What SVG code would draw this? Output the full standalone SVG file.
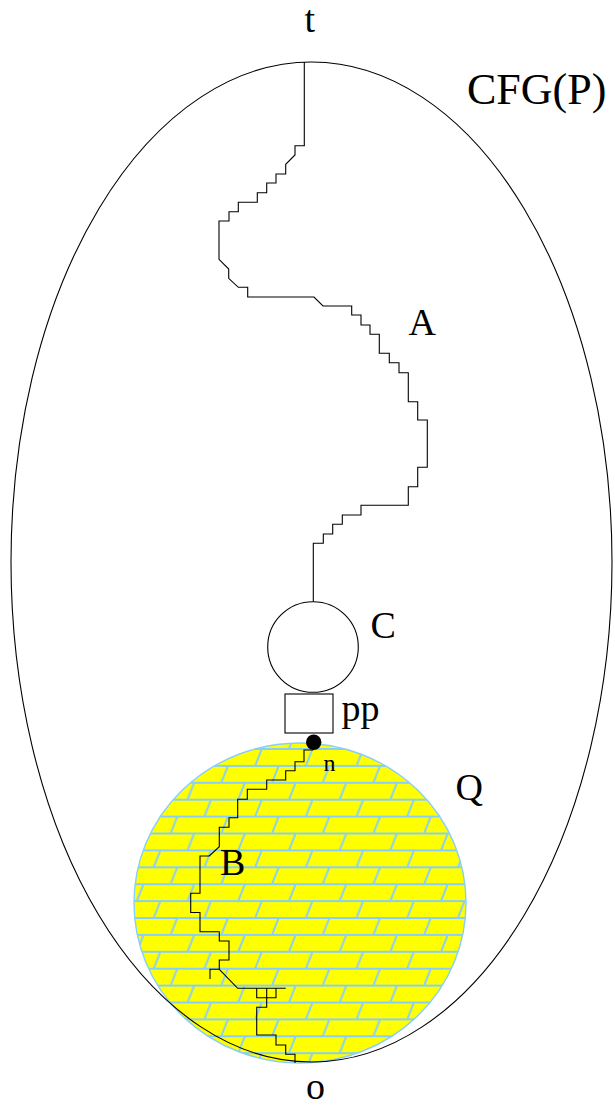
<svg xmlns="http://www.w3.org/2000/svg" width="615" height="1107" viewBox="0 0 615 1107">
<style>
.ln{fill:none;stroke:#000;stroke-width:1.1}
.lbl{font-family:"Liberation Serif","Times New Roman",serif;font-size:38px;fill:#000}
.sm{font-size:24px}
.big{font-size:44px}
.sh{stroke:#87cefa;stroke-width:2;fill:none}
</style>
<defs>
<pattern id="shingles" patternUnits="userSpaceOnUse" x="351.5" y="749" width="50.7" height="50.7">
<rect x="0" y="0" width="50.7" height="50.7" fill="#ffff00"/>
<path class="sh" d="M0 0H50.7M0 16.9H50.7M0 33.8H50.7M0 50.7H50.7M5 16.9L11.7 0M21.9 33.8L28.6 16.9M38.8 50.7L45.5 33.8"/>
</pattern>
</defs>
<rect width="615" height="1107" fill="#fff"/>
<g id="Q">
<ellipse cx="300" cy="903" rx="166" ry="160" fill="url(#shingles)" stroke="#87cefa" stroke-width="1.4"/>
</g>
<g id="CFG">
<ellipse class="ln" cx="311.5" cy="562" rx="300.5" ry="500"/>
</g>
<g id="C">
<circle class="ln" cx="313" cy="647" r="45.3"/>
</g>
<g id="pp">
<rect class="ln" x="285" y="694" width="48" height="39"/>
</g>
<g id="n">
<circle cx="313.7" cy="742.3" r="7.7" fill="#000"/>
</g>
<g id="connectors">
<path id="A" class="ln" d="M304.3 62V145.7H295V155L285.7 164.3V174H276V183H266.7V192.7H257.3V202.3H238.3V211.7H229V221H219V259.3L228.7 269V278.3L238.3 287.3H247.7V297H314L323 306H351.7V315H361V325H370V334.3H379.3V353.3H389.3V362.7H399V372.7H408.3V401.7H417.7V420H427.3V467.3H417.7V486.7H408.3V505.3H361V515H342.3V524.3H332.7V534H323.3V543.3H313.3V601.7"/>
<path id="B" class="ln" d="M313.3 750H304V761.7H295V770.7H285.7V780H266.7V789.3H247.3V799.3H237.7V817.7H229V827.3H219.3V846.7L209.3 856H200V893.3H190.7V912.5H200V931.7H219.3V941H229V960H219.3V969.3M219.3 969.3H210V979M219.3 969.3L237.7 988.3H285.7M256.7 988.3V997.7H276V988.3M266.7 988.3V1007.3H256.7V1035H276V1045H285.7V1054.3H295V1063"/>
</g>
<g id="labels">
<text class="lbl" x="304.5" y="32">t</text>
<text class="lbl big" x="467" y="104">CFG(P)</text>
<text class="lbl" x="408.5" y="335">A</text>
<text class="lbl" x="370.5" y="638">C</text>
<text class="lbl" x="341.5" y="721">pp</text>
<text class="lbl sm" x="323.5" y="770.7">n</text>
<text class="lbl" x="455.5" y="800">Q</text>
<text class="lbl" x="220" y="875">B</text>
<text class="lbl" x="306" y="1099">o</text>
</g>
</svg>
